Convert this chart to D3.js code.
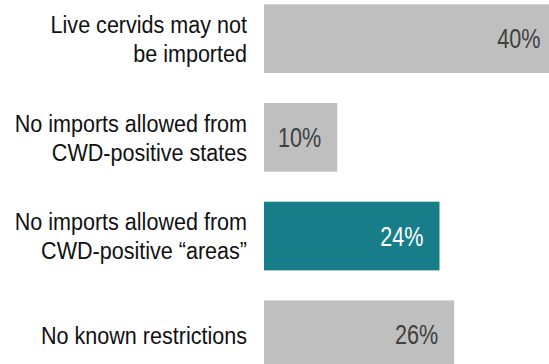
<!DOCTYPE html>
<html>
<head>
<meta charset="utf-8">
<script src="https://cdn.jsdelivr.net/npm/d3@7"></script>
<style>
  html, body { margin: 0; padding: 0; background: #fff; }
  svg { display: block; }
  text { font-family: "Liberation Sans", Arial, sans-serif; }
</style>
</head>
<body>
<svg id="chart" width="549" height="364"></svg>
<script>
// Import restrictions on live cervids (share of states)
const categories = [
  "Live cervids may not be imported",
  "No imports allowed from CWD-positive states",
  "No imports allowed from CWD-positive “areas”",
  "No known restrictions"
];
const labelLines = [
  ["Live cervids may not", "be imported"],
  ["No imports allowed from", "CWD-positive states"],
  ["No imports allowed from", "CWD-positive “areas”"],
  ["No known restrictions"]
];
const values = [40, 10, 24, 26];
const highlighted = "No imports allowed from CWD-positive “areas”";

const svg = d3.select("#chart");

const x = d3.scaleLinear().domain([0, 40]).range([264, 556.5]);
const y = d3.scaleBand()
  .domain(categories)
  .range([4.3, 369.1])
  .paddingInner(0.304)
  .paddingOuter(0);

const rows = svg.selectAll("g.row")
  .data(categories.map((c, i) => ({ cat: c, value: values[i], lines: labelLines[i] })))
  .join("g")
  .attr("class", "row");

rows.append("rect")
  .attr("x", x(0))
  .attr("y", d => y(d.cat))
  .attr("width", d => x(d.value) - x(0))
  .attr("height", y.bandwidth())
  .attr("fill", d => d.cat === highlighted ? "#177e89" : "#bfbfbf");

// condensed text: squeeze horizontally about the anchor point
const narrow = (sel, ax, sx) =>
  sel.attr("transform", `translate(${ax},0) scale(${sx},1)`);

rows.append("g")
  .each(function(d) { narrow(d3.select(this), x(d.value) - 16, 0.8); })
  .append("text")
  .attr("x", 0)
  .attr("y", d => y(d.cat) + y.bandwidth() / 2)
  .attr("dy", "0.36em")
  .attr("text-anchor", "end")
  .attr("font-size", 27)
  .attr("fill", d => d.cat === highlighted ? "#ffffff" : "#404040")
  .text(d => d.value + "%");

const lineGap = 29;
rows.append("g")
  .call(narrow, 247, 0.88)
  .append("text")
  .attr("text-anchor", "end")
  .attr("font-size", 24.5)
  .attr("fill", "#111")
  .each(function(d) {
    const t = d3.select(this);
    const n = d.lines.length;
    const cy = y(d.cat) + y.bandwidth() / 2;
    d.lines.forEach((ln, k) => {
      t.append("tspan")
        .attr("x", 0)
        .attr("y", cy + (k - (n - 1) / 2) * lineGap)
        .attr("dy", "0.36em")
        .text(ln);
    });
  });
</script>
</body>
</html>
